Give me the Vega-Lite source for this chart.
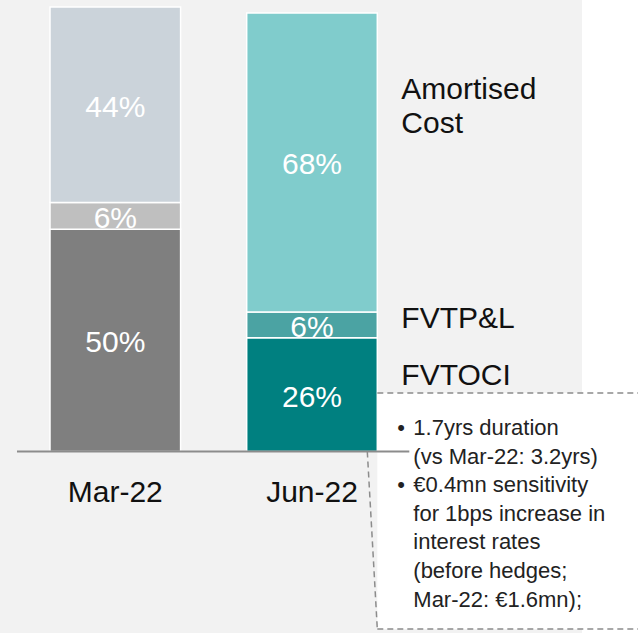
{
  "$schema": "https://vega.github.io/schema/vega-lite/v6.json",
  "width": 582,
  "height": 633,
  "autosize": {"type": "none"},
  "padding": {"left": 0, "top": 0, "right": 56, "bottom": 0},
  "background": "white",
  "config": {
    "view": {"fill": "#f2f2f2", "stroke": null},
    "font": "Liberation Sans",
    "text": {"font": "Liberation Sans"}
  },
  "datasets": {
    "shares": [
      {"period": "Mar-22", "category": "FVTOCI", "order": 1, "value": 50, "label": "50%", "series": "Mar-22 FVTOCI"},
      {"period": "Mar-22", "category": "FVTP&L", "order": 2, "value": 6, "label": "6%", "series": "Mar-22 FVTP&L"},
      {"period": "Mar-22", "category": "Amortised Cost", "order": 3, "value": 44, "label": "44%", "series": "Mar-22 Amortised Cost"},
      {"period": "Jun-22", "category": "FVTOCI", "order": 1, "value": 25.6, "label": "26%", "series": "Jun-22 FVTOCI"},
      {"period": "Jun-22", "category": "FVTP&L", "order": 2, "value": 5.8, "label": "6%", "series": "Jun-22 FVTP&L"},
      {"period": "Jun-22", "category": "Amortised Cost", "order": 3, "value": 67.25, "label": "68%", "series": "Jun-22 Amortised Cost"}
    ],
    "periods": [{"period": "Mar-22"}, {"period": "Jun-22"}],
    "one": [{}]
  },
  "layer": [
    {
      "data": {"name": "one"},
      "mark": {"type": "rect", "fill": "white", "x2Offset": 300},
      "encoding": {
        "x": {"datum": "Jun-22", "type": "nominal", "bandPosition": 1, "axis": null},
        "x2": {"datum": "Jun-22", "bandPosition": 1},
        "y": {"datum": 13.16, "type": "quantitative", "axis": null},
        "y2": {"datum": -39.93}
      }
    },
    {
      "data": {"name": "shares"},
      "transform": [
        {"stack": "value", "groupby": ["period"], "sort": [{"field": "order"}], "as": ["v0", "v1"]}
      ],
      "mark": {"type": "bar", "stroke": "white", "strokeWidth": 1.5},
      "encoding": {
        "x": {
          "field": "period", "type": "nominal", "axis": null,
          "scale": {"domain": ["Mar-22", "Jun-22"], "paddingInner": 0.336, "paddingOuter": 0.6474, "align": 0.1963}
        },
        "y": {
          "field": "v0", "type": "quantitative", "axis": null,
          "scale": {"domain": [-40.83, 101.575], "nice": false, "zero": false}
        },
        "y2": {"field": "v1"},
        "color": {
          "field": "series", "type": "nominal", "legend": null,
          "scale": {
            "domain": ["Mar-22 FVTOCI", "Mar-22 FVTP&L", "Mar-22 Amortised Cost", "Jun-22 FVTOCI", "Jun-22 FVTP&L", "Jun-22 Amortised Cost"],
            "range": ["#7f7f7f", "#bfbfbf", "#cbd3da", "#008080", "#4ba3a3", "#80cccc"]
          }
        }
      }
    },
    {
      "data": {"name": "shares"},
      "transform": [
        {"stack": "value", "groupby": ["period"], "sort": [{"field": "order"}], "as": ["v0", "v1"]},
        {"fold": ["v0", "v1"], "as": ["edge", "pos"]},
        {"aggregate": [{"op": "mean", "field": "pos", "as": "mid"}], "groupby": ["period", "label"]}
      ],
      "mark": {"type": "text", "color": "white", "fontSize": 30, "align": "center", "baseline": "middle", "dy": 3},
      "encoding": {
        "x": {"field": "period", "type": "nominal", "axis": null},
        "y": {"field": "mid", "type": "quantitative", "axis": null},
        "text": {"field": "label"}
      }
    },
    {
      "data": {"name": "one"},
      "mark": {"type": "rule", "color": "#8c8c8c", "strokeWidth": 2, "xOffset": -33, "x2Offset": 32},
      "encoding": {
        "x": {"datum": "Mar-22", "type": "nominal", "bandPosition": 0, "axis": null},
        "x2": {"datum": "Jun-22", "bandPosition": 1},
        "y": {"datum": 0, "type": "quantitative", "axis": null}
      }
    },
    {
      "data": {"name": "one"},
      "mark": {"type": "rule", "color": "#8c8c8c", "strokeWidth": 1.5, "strokeDash": [6, 4], "x2Offset": 300},
      "encoding": {
        "x": {"datum": "Jun-22", "type": "nominal", "bandPosition": 1, "axis": null},
        "x2": {"datum": "Jun-22", "bandPosition": 1},
        "y": {"datum": 13.16, "type": "quantitative", "axis": null}
      }
    },
    {
      "data": {"name": "one"},
      "mark": {"type": "rule", "color": "#8c8c8c", "strokeWidth": 1.5, "strokeDash": [6, 4], "x2Offset": 300},
      "encoding": {
        "x": {"datum": "Jun-22", "type": "nominal", "bandPosition": 1, "axis": null},
        "x2": {"datum": "Jun-22", "bandPosition": 1},
        "y": {"datum": -39.93, "type": "quantitative", "axis": null}
      }
    },
    {
      "data": {"name": "one"},
      "mark": {"type": "rule", "color": "#8c8c8c", "strokeWidth": 1.5, "strokeDash": [6, 4], "xOffset": -10},
      "encoding": {
        "x": {"datum": "Jun-22", "type": "nominal", "bandPosition": 1, "axis": null},
        "x2": {"datum": "Jun-22", "bandPosition": 1},
        "y": {"datum": 0, "type": "quantitative", "axis": null},
        "y2": {"datum": -39.93}
      }
    },
    {
      "data": {"name": "one"},
      "mark": {"type": "text", "text": ["Amortised", "Cost"], "lineHeight": 34.3, "fontSize": 30, "color": "#111111", "align": "left", "baseline": "alphabetic", "dx": 24},
      "encoding": {
        "x": {"datum": "Jun-22", "type": "nominal", "bandPosition": 1, "axis": null},
        "y": {"datum": 79.3, "type": "quantitative", "axis": null}
      }
    },
    {
      "data": {"name": "one"},
      "mark": {"type": "text", "text": "FVTP&L", "fontSize": 30, "color": "#111111", "align": "left", "baseline": "alphabetic", "dx": 24},
      "encoding": {
        "x": {"datum": "Jun-22", "type": "nominal", "bandPosition": 1, "axis": null},
        "y": {"datum": 27.72, "type": "quantitative", "axis": null}
      }
    },
    {
      "data": {"name": "one"},
      "mark": {"type": "text", "text": "FVTOCI", "fontSize": 30, "color": "#111111", "align": "left", "baseline": "alphabetic", "dx": 24},
      "encoding": {
        "x": {"datum": "Jun-22", "type": "nominal", "bandPosition": 1, "axis": null},
        "y": {"datum": 14.96, "type": "quantitative", "axis": null}
      }
    },
    {
      "data": {"name": "periods"},
      "mark": {"type": "text", "fontSize": 30, "color": "#111111", "align": "center", "baseline": "alphabetic"},
      "encoding": {
        "x": {"field": "period", "type": "nominal", "axis": null},
        "y": {"datum": -11.29, "type": "quantitative", "axis": null},
        "text": {"field": "period"}
      }
    },
    {
      "data": {"name": "one"},
      "mark": {"type": "text", "text": "•", "fontSize": 22, "color": "#222222", "align": "left", "baseline": "alphabetic", "dx": 20},
      "encoding": {
        "x": {"datum": "Jun-22", "type": "nominal", "bandPosition": 1, "axis": null},
        "y": {"datum": 3.71, "type": "quantitative", "axis": null}
      }
    },
    {
      "data": {"name": "one"},
      "mark": {"type": "text", "text": "•", "fontSize": 22, "color": "#222222", "align": "left", "baseline": "alphabetic", "dx": 20},
      "encoding": {
        "x": {"datum": "Jun-22", "type": "nominal", "bandPosition": 1, "axis": null},
        "y": {"datum": -9.16, "type": "quantitative", "axis": null}
      }
    },
    {
      "data": {"name": "one"},
      "mark": {"type": "text", "text": ["1.7yrs duration", "(vs Mar-22: 3.2yrs)", "€0.4mn sensitivity", "for 1bps increase in", "interest rates", "(before hedges;", "Mar-22: €1.6mn);"], "lineHeight": 28.6, "fontSize": 22, "color": "#222222", "align": "left", "baseline": "alphabetic", "dx": 36},
      "encoding": {
        "x": {"datum": "Jun-22", "type": "nominal", "bandPosition": 1, "axis": null},
        "y": {"datum": 3.71, "type": "quantitative", "axis": null}
      }
    }
  ]
}
